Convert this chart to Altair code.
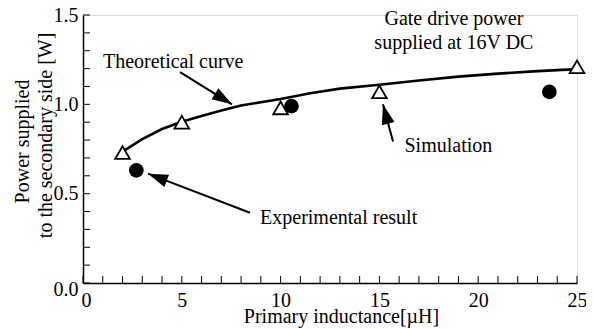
import math
import altair as alt
import pandas as pd

# ---- data ----
curve_x = [2, 3, 4, 5, 6, 7, 8, 9, 10, 11.5, 13, 15, 17, 19, 21, 23, 25]
curve_y = [0.735, 0.805, 0.862, 0.903, 0.935, 0.965, 0.993, 1.012, 1.03,
           1.062, 1.088, 1.11, 1.133, 1.155, 1.172, 1.186, 1.197]

sim_x = [2, 5, 10, 15, 25]
sim_y = [0.73, 0.90, 0.98, 1.07, 1.21]

exp_x = [2.7, 10.55, 23.6]
exp_y = [0.63, 0.99, 1.07]

x_tick_labels = [0, 5, 10, 15, 20, 25]
y_tick_labels = [0.0, 0.5, 1.0, 1.5]
x_minor = list(range(0, 26))
y_minor = [round(i * 0.1, 1) for i in range(16)]

y_title_lines = ["Power supplied", "to the secondary side [W]"]
y_title_x = [-2.73, -1.57]
y_title_y = [0.792, 0.826]

note_text = ["Theoretical curve", "Experimental result", "Simulation"]
note_x = [1.01, 8.96, 16.27]
note_y = [1.202, 0.331, 0.736]

header_text = ["Gate drive power", "supplied at 16V DC"]
header_x = [18.77, 18.77]
header_y = [1.444, 1.309]

arrow_name = ["theory", "experiment", "simulation"]
arrow_tail_x = [4.91, 8.45, 15.69]
arrow_tail_y = [1.180, 0.393, 0.792]
arrow_tip_x = [7.54, 3.29, 15.18]
arrow_tip_y = [1.0, 0.612, 1.0]

# ---- layout ----
W, H = 494, 268
FONT = "Liberation Serif"
FS = 20

xs = alt.Scale(domain=[0, 25], nice=False, zero=False)
ys = alt.Scale(domain=[0, 1.5], nice=False, zero=False)

x_axis = alt.Axis(
    values=x_tick_labels, format="d", ticks=False, tickSize=0, grid=False,
    domainColor="black", domainWidth=1.5,
    labelFont=FONT, labelFontSize=FS, labelColor="black",
    labelBaseline="alphabetic", labelPadding=23, labelFlush=False,
    labelOverlap=False, labelBound=False,
    labelOffset={"condition": {"test": "datum.value === 0", "value": 3}, "value": 0},
    title="Primary inductance[µH]", titleFont=FONT, titleFontSize=FS,
    titleFontWeight="normal", titleColor="black",
    titleX=258, titleY=39, titleBaseline="alphabetic", titleAlign="center",
)
y_axis = alt.Axis(
    values=y_tick_labels, format=".1f", ticks=False, tickSize=0, grid=False,
    domainColor="black", domainWidth=1.5,
    labelFont=FONT, labelFontSize=FS, labelColor="black",
    labelBaseline="middle", labelPadding=5, labelFlush=False,
    labelOverlap=False, labelBound=False,
    labelOffset={"condition": {"test": "datum.value === 0", "value": 6}, "value": 0},
    title=None,
)


def X(f):
    return alt.X(f, type="quantitative", scale=xs, axis=x_axis)


def Y(f):
    return alt.Y(f, type="quantitative", scale=ys, axis=y_axis)


df_curve = pd.DataFrame({"x": curve_x, "y": curve_y})
df_sim = pd.DataFrame({"x": sim_x, "y": sim_y})
df_exp = pd.DataFrame({"x": exp_x, "y": exp_y})
df_xt = pd.DataFrame({"v": x_minor})
df_yt = pd.DataFrame({"v": y_minor})
df_note = pd.DataFrame({"x": note_x, "y": note_y, "t": note_text})
df_head = pd.DataFrame({"x": header_x, "y": header_y, "t": header_text})
df_ytitle = pd.DataFrame({"x": y_title_x, "y": y_title_y, "t": y_title_lines})

rows = []
for n, tx, ty, hx, hy in zip(arrow_name, arrow_tail_x, arrow_tail_y, arrow_tip_x, arrow_tip_y):
    rows.append({"id": n, "x": tx, "y": ty})
    rows.append({"id": n, "x": hx, "y": hy})
df_arrow = pd.DataFrame(rows)

angles = []
for tx, ty, hx, hy in zip(arrow_tail_x, arrow_tail_y, arrow_tip_x, arrow_tip_y):
    dx = (hx - tx) * W / 25
    dy = -(hy - ty) * H / 1.5
    angles.append(math.degrees(math.atan2(dy, dx)) % 360)
df_tip = pd.DataFrame({"x": arrow_tip_x, "y": arrow_tip_y, "a": angles})

xticks = alt.Chart(df_xt).mark_rule(color="black", strokeWidth=1).encode(
    x=X("v"), y=alt.value(H), y2=alt.value(H - 7))
yticks = alt.Chart(df_yt).mark_rule(color="black", strokeWidth=1).encode(
    y=Y("v"), x=alt.value(0), x2=alt.value(7))

curve = alt.Chart(df_curve).mark_line(color="black", strokeWidth=2.6).encode(
    x=X("x"), y=Y("y"))

arrow_lines = alt.Chart(df_arrow).mark_line(color="black", strokeWidth=2).encode(
    x=X("x"), y=Y("y"), detail="id:N")
arrow_heads = alt.Chart(df_tip).mark_point(
    shape="M0,0L-2,-0.65L-2,0.65Z", filled=True, color="black", opacity=1,
    size=400, strokeWidth=0).encode(
    x=X("x"), y=Y("y"), angle=alt.Angle("a:Q", scale=None))

sim = alt.Chart(df_sim).mark_point(
    shape="triangle-up", filled=True, fill="white", stroke="black",
    strokeWidth=1.8, size=215, opacity=1).encode(x=X("x"), y=Y("y"))
exp = alt.Chart(df_exp).mark_point(
    shape="circle", filled=True, color="black", size=215, opacity=1).encode(
    x=X("x"), y=Y("y"))

notes = alt.Chart(df_note).mark_text(
    align="left", baseline="alphabetic", font=FONT, fontSize=FS, color="black").encode(
    x=X("x"), y=Y("y"), text="t:N")
header = alt.Chart(df_head).mark_text(
    align="center", baseline="alphabetic", font=FONT, fontSize=FS, color="black").encode(
    x=X("x"), y=Y("y"), text="t:N")
ytitle = alt.Chart(df_ytitle).mark_text(
    align="center", baseline="alphabetic", angle=270, font=FONT, fontSize=FS,
    color="black").encode(x=X("x"), y=Y("y"), text="t:N")

chart = alt.layer(
    xticks, yticks, curve, arrow_lines, arrow_heads, exp, sim, notes, header, ytitle
).properties(
    width=W, height=H,
    autosize=alt.AutoSizeParams(type="none"),
    padding={"left": 75, "top": 7, "right": 9, "bottom": 46},
).configure_view(stroke=None).configure(background="white")

chart.save("out.html", embed_options={"renderer": "svg", "actions": False})
